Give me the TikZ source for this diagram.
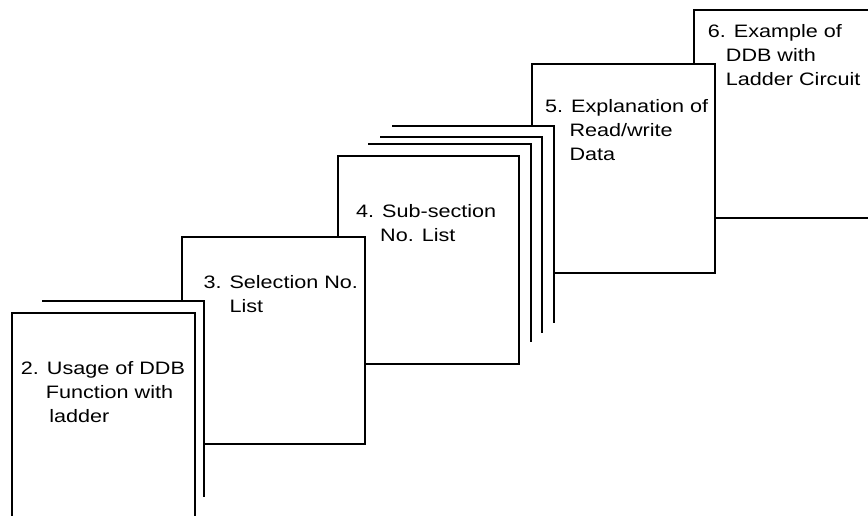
\documentclass[tikz,border=0pt]{standalone}
\usepackage{fontspec}
\setmainfont[FakeStretch=1.2]{Liberation Sans}
\usetikzlibrary{positioning}

\tikzset{
  page/.style={fill=white, draw=black, line width=1.6pt},
  sheet/.style={draw=black, line width=1.6pt},
  pagetext/.style={anchor=base west, inner sep=0pt, align=left,
    font=\fontsize{18}{24}\selectfont}
}

\begin{document}
\begin{tikzpicture}[x=1pt, y=-1pt]
  \useasboundingbox (0,0) rectangle (868,516);
  \clip (0,0) rectangle (868,516);

  % back to front
  \filldraw [page] (694,10) rectangle (880,218);
  \filldraw [page] (532,64) rectangle (715,273);

  \begin{scope}
    \fill [white] (392,126) rectangle (554,323);
    \draw [sheet] (392,126) -- (554,126) -- (554,323);
    \fill [white] (380,137) rectangle (542,333);
    \draw [sheet] (380,137) -- (542,137) -- (542,333);
    \fill [white] (368,144) rectangle (531,342);
    \draw [sheet] (368,144) -- (531,144) -- (531,342);
  \end{scope}

  \filldraw [page] (338,156) rectangle (519,364);
  \filldraw [page] (182,237) rectangle (365,444);

  \fill [white] (42,301) rectangle (204,497);
  \draw [sheet] (42,301) -- (204,301) -- (204,497);
  \filldraw [page] (12,313) rectangle (195,530);

  % base anchor sits on the last line
  \node [pagetext] (p2) at (20.7,422) {2. Usage of DDB\\\hspace*{25pt}Function with\\\hspace*{28.5pt}ladder};
  \node [pagetext] (p3) at (203.3,312.5) {3. Selection No.\\\hspace*{26pt}List};
  \node [pagetext] (p4) at (356,241.5) {4. Sub-section\\\hspace*{24pt}No. List};
  \node [pagetext] (p5) at (545,160.5) {5. Explanation of\\\hspace*{24.3pt}Read/write\\\hspace*{24.3pt}Data};
  \node [pagetext] (p6) at (707.7,85.5) {6. Example of\\\hspace*{18pt}DDB with\\\hspace*{18pt}Ladder Circuit};
\end{tikzpicture}
\end{document}
